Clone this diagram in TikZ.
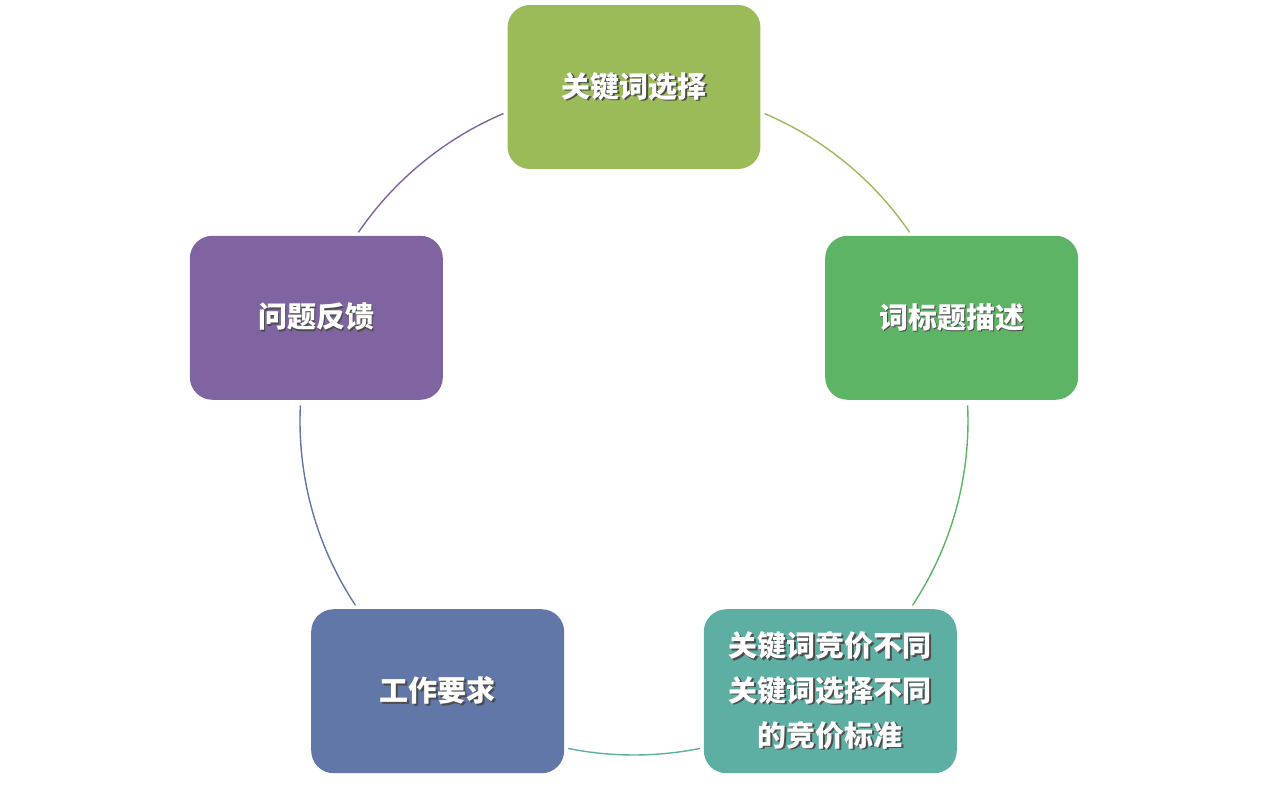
\documentclass[tikz,border=0pt]{standalone}
\usepackage{fontspec}
\newfontfamily\cjk{Noto Sans CJK SC}
\usepackage{tikz}
\usetikzlibrary{positioning}

\definecolor{olivebox}{HTML}{9BBB59}
\definecolor{greenbox}{HTML}{5DB465}
\definecolor{tealbox}{HTML}{5EAFA3}
\definecolor{bluebox}{HTML}{6077A8}
\definecolor{purplebox}{HTML}{8064A2}
\newcommand\shtxt[1]{\makebox[0pt][l]{\hspace{0.9pt}\raisebox{-0.9pt}{\color{black!70}#1}}#1}

\tikzset{
  stepbox/.style={draw=none, fill=#1, rounded corners=0.45cm, minimum width=5.06cm,
    minimum height=3.28cm, align=center, text=white,
    font=\cjk\bfseries\fontsize{16.5}{25.6}\selectfont},
  ring/.style={#1, line width=0.8pt}
}

\begin{document}
\begin{tikzpicture}[x=0.02cm, y=0.02cm]
 \def\rcirc{334}

    % canvas
    \useasboundingbox (-634,-368) rectangle (634,421);
    \coordinate (O) at (0,0);

    % Boxes
    \node[stepbox=olivebox] (select) at (90:\rcirc) {\shtxt{关键词选择}};
    \node[stepbox=greenbox] (title) at (18:\rcirc) {\shtxt{词标题描述}};
    \node[stepbox=tealbox] (bid) at (-54:\rcirc) {\shtxt{关键词竞价不同}\\\shtxt{关键词选择不同}\\\shtxt{的竞价标准}};
    \node[stepbox=bluebox] (work) at (-126:\rcirc) {\shtxt{工作要求}};
    \node[stepbox=purplebox] (feedback) at (162:\rcirc) {\shtxt{问题反馈}};

    % Ring
    \coordinate (a1) at (67:\rcirc);
    \coordinate (a2) at (2.7:\rcirc);
    \coordinate (a3) at (-78.6:\rcirc);
    \coordinate (a4) at (-146.5:\rcirc);
    \coordinate (a5) at (145.6:\rcirc);
    \draw[ring=olivebox] (a1) arc[start angle=67, end angle=34.4, radius=\rcirc];
    \draw[ring=greenbox] (a2) arc[start angle=2.7, end angle=-33.5, radius=\rcirc];
    \draw[ring=tealbox] (a3) arc[start angle=-78.6, end angle=-101.4, radius=\rcirc];
    \draw[ring=bluebox] (a4) arc[start angle=-146.5, end angle=-182.7, radius=\rcirc];
    \draw[ring=purplebox] (a5) arc[start angle=145.6, end angle=113, radius=\rcirc];
\end{tikzpicture}
\end{document}
